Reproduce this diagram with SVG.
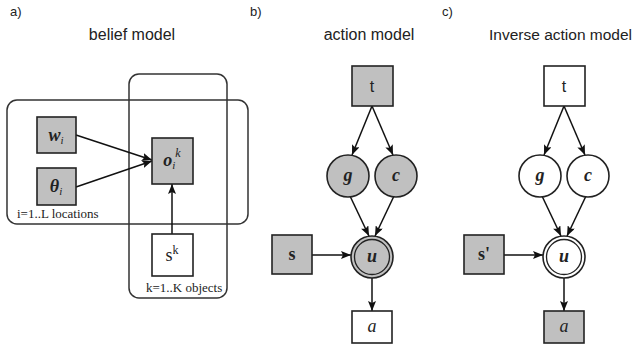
<svg xmlns="http://www.w3.org/2000/svg" width="636" height="350" viewBox="0 0 636 350">
<defs>
<marker id="arr" viewBox="0 0 10 8" refX="10" refY="4" markerWidth="10" markerHeight="8" markerUnits="userSpaceOnUse" orient="auto">
<path d="M0,0 L10,4 L0,8 L2,4 Z" fill="#111"/>
</marker>
<style>
.title{font-family:"Liberation Sans",Arial,sans-serif;font-size:16px;fill:#222}
.panel{font-family:"Liberation Sans",Arial,sans-serif;font-size:13px;fill:#222}
.plate{fill:none;stroke:#333;stroke-width:1.5}
.plabel{font-family:"Liberation Serif","Times New Roman",serif;font-size:13px;fill:#222}
.obs{fill:#c0c0c0;stroke:#222;stroke-width:1.6}
.hid{fill:#fff;stroke:#222;stroke-width:1.6}
.lbl{font-family:"Liberation Serif","Times New Roman",serif;font-size:18px;font-weight:bold;font-style:italic;fill:#222;text-anchor:middle}
.sub{font-size:11px;font-weight:normal}
.edge{stroke:#111;stroke-width:1.5;fill:none;marker-end:url(#arr)}
</style>
</defs>

<text class="panel" x="10" y="16">a)</text>
<text class="panel" x="250" y="16">b)</text>
<text class="panel" x="442" y="16">c)</text>
<text class="title" x="132" y="40" text-anchor="middle">belief model</text>
<text class="title" x="369" y="40" text-anchor="middle">action model</text>
<text class="title" x="489" y="40" style="font-size:15.5px">Inverse action model</text>

<g id="plate-L">
<rect class="plate" x="7" y="100" width="241" height="124" rx="10"/>
<text class="plabel" x="17" y="218">i=1..L locations</text>
</g>
<g id="plate-K">
<rect class="plate" x="129" y="74" width="98" height="224" rx="10"/>
<text class="plabel" x="146" y="292">k=1..K objects</text>
</g>

<g id="edges">
<line class="edge" x1="76" y1="135" x2="152" y2="160"/>
<line class="edge" x1="76" y1="187" x2="152" y2="161"/>
<line class="edge" x1="172" y1="234" x2="172" y2="184"/>
<line class="edge" x1="372" y1="106" x2="352" y2="155"/>
<line class="edge" x1="372" y1="106" x2="393" y2="155"/>
<line class="edge" x1="350" y1="196" x2="369" y2="236"/>
<line class="edge" x1="394" y1="196" x2="375" y2="236"/>
<line class="edge" x1="312" y1="255" x2="351" y2="255"/>
<line class="edge" x1="372" y1="278" x2="372" y2="311"/>
<line class="edge" x1="564" y1="106" x2="544" y2="155"/>
<line class="edge" x1="564" y1="106" x2="585" y2="155"/>
<line class="edge" x1="542" y1="196" x2="561" y2="236"/>
<line class="edge" x1="586" y1="196" x2="567" y2="236"/>
<line class="edge" x1="504" y1="255" x2="543" y2="255"/>
<line class="edge" x1="564" y1="278" x2="564" y2="311"/>
</g>

<g id="w">
<rect class="obs" x="37" y="117" width="39" height="36"/>
<text class="lbl" x="56" y="141">w<tspan class="sub" dy="3">i</tspan></text>
</g>
<g id="theta">
<rect class="obs" x="37" y="168" width="39" height="37"/>
<text class="lbl" x="56" y="192">θ<tspan class="sub" dy="3">i</tspan></text>
</g>
<g id="o">
<rect class="obs" x="152" y="138" width="41" height="46"/>
<text class="lbl" x="172" y="166">o<tspan class="sub" dy="3">i</tspan><tspan class="sub" dy="-12" style="font-size:12px">k</tspan></text>
</g>
<g id="s-k">
<rect class="hid" x="152" y="234" width="41" height="42"/>
<text class="lbl" x="172" y="261" style="font-weight:normal;font-style:normal">s<tspan dy="-7" style="font-size:12px">k</tspan></text>
</g>

<g id="b-t">
<rect class="obs" x="352" y="66" width="41" height="40"/>
<text x="372" y="92" text-anchor="middle" style="font-family:'Liberation Sans',Arial,sans-serif;font-size:16px;fill:#222">t</text>
</g>
<g id="b-g">
<circle class="obs" cx="348" cy="176" r="21"/>
<text class="lbl" x="348" y="181">g</text>
</g>
<g id="b-c">
<circle class="obs" cx="396" cy="176" r="21"/>
<text class="lbl" x="396" y="181">c</text>
</g>
<g id="b-s">
<rect class="obs" x="272" y="235" width="40" height="39"/>
<text class="lbl" x="292" y="260" style="font-style:normal">s</text>
</g>
<g id="b-u">
<circle class="obs" cx="372" cy="257" r="21"/>
<circle cx="372" cy="257" r="17.5" fill="none" stroke="#222" stroke-width="1.3"/>
<text class="lbl" x="372" y="262">u</text>
</g>
<g id="b-a">
<rect class="hid" x="352" y="311" width="40" height="32"/>
<text class="lbl" x="372" y="332" style="font-weight:normal">a</text>
</g>

<g id="c-t">
<rect class="hid" x="544" y="66" width="41" height="40"/>
<text x="564" y="92" text-anchor="middle" style="font-family:'Liberation Sans',Arial,sans-serif;font-size:16px;fill:#222">t</text>
</g>
<g id="c-g">
<circle class="hid" cx="540" cy="176" r="21"/>
<text class="lbl" x="540" y="181">g</text>
</g>
<g id="c-c">
<circle class="hid" cx="588" cy="176" r="21"/>
<text class="lbl" x="588" y="181">c</text>
</g>
<g id="c-s">
<rect class="obs" x="464" y="235" width="40" height="39"/>
<text class="lbl" x="484" y="260" style="font-style:normal">s'</text>
</g>
<g id="c-u">
<circle class="hid" cx="564" cy="257" r="21"/>
<circle cx="564" cy="257" r="17.5" fill="none" stroke="#222" stroke-width="1.3"/>
<text class="lbl" x="564" y="262">u</text>
</g>
<g id="c-a">
<rect class="obs" x="544" y="311" width="40" height="32"/>
<text class="lbl" x="564" y="332" style="font-weight:normal">a</text>
</g>
</svg>
